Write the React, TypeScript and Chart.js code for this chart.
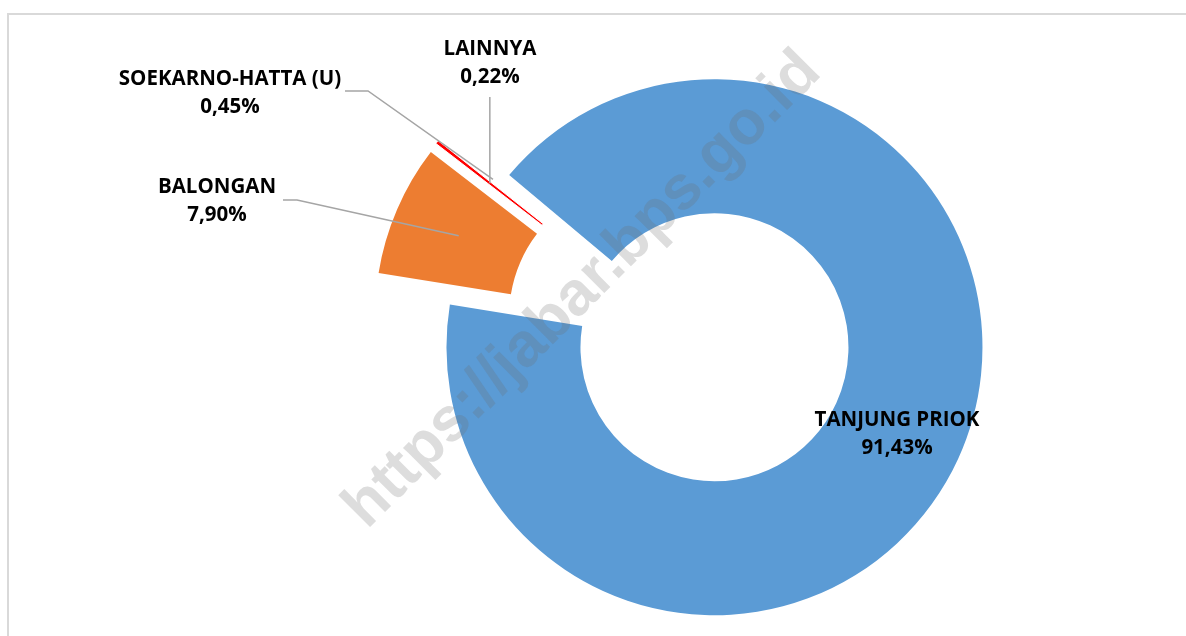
import React, { useEffect, useRef } from "react";
import { Chart, registerables } from "chart.js";

Chart.register(...registerables);

// ---- data ----
const categories = ["TANJUNG PRIOK", "BALONGAN", "LAINNYA", "SOEKARNO-HATTA (U)"];
const shares = [91.43, 7.9, 0.22, 0.45];
const shareLabels = ["91,43%", "7,90%", "0,22%", "0,45%"];
const watermarkText = "https://jabar.bps.go.id";

// ---- styles / layout ----
const sliceColors = ["#5B9BD5", "#ED7D31", "#FF0000", "rgba(0,0,0,0)"];
const sliceBorderWidths = [0, 0, 1, 0];
const ROTATION = -50;
const RADIUS = 268;
const EXPLODE = 39;
const LABEL_FONT = "bold 20.5px 'Open Sans'";
const LINE_GAP = 28;
const LEADER_COLOR = "#A5A5A5";
// label block centre (first line) and leader start points
const labelLayout: { x: number; y: number; leader: number[][] | null; vertical?: number }[] = [
  { x: 897, y: 420, leader: null },
  { x: 217, y: 187, leader: [[283, 200], [297, 200]] },
  { x: 490, y: 49, leader: null, vertical: 97 },
  { x: 230, y: 79, leader: [[345, 91], [368, 91]] },
];

const explodePlugin = {
  id: "explode",
  afterDatasetsUpdate(chart: any) {
    const meta = chart.getDatasetMeta(0);
    meta.data.forEach((el: any) => {
      const mid = (el.startAngle + el.endAngle) / 2;
      el.x += Math.cos(mid) * EXPLODE;
      el.y += Math.sin(mid) * EXPLODE;
    });
  },
};

const labelPlugin = {
  id: "sliceLabels",
  afterDatasetsDraw(chart: any) {
    const ctx: CanvasRenderingContext2D = chart.ctx;
    const meta = chart.getDatasetMeta(0);
    ctx.save();
    meta.data.forEach((el: any, i: number) => {
      const mid = (el.startAngle + el.endAngle) / 2;
      const r = (el.innerRadius + el.outerRadius) / 2;
      const cx = el.x + Math.cos(mid) * r;
      const cy = el.y + Math.sin(mid) * r;
      const lay = labelLayout[i];
      ctx.strokeStyle = LEADER_COLOR;
      ctx.lineWidth = 1.5;
      if (lay.leader) {
        ctx.beginPath();
        ctx.moveTo(lay.leader[0][0], lay.leader[0][1]);
        for (let k = 1; k < lay.leader.length; k++) ctx.lineTo(lay.leader[k][0], lay.leader[k][1]);
        ctx.lineTo(cx, cy);
        ctx.stroke();
      } else if (lay.vertical !== undefined) {
        ctx.beginPath();
        ctx.moveTo(cx, lay.vertical);
        ctx.lineTo(cx, cy);
        ctx.stroke();
      }
    });
    ctx.fillStyle = "#000";
    ctx.font = LABEL_FONT;
    ctx.textAlign = "center";
    ctx.textBaseline = "middle";
    categories.forEach((c, i) => {
      const lay = labelLayout[i];
      ctx.fillText(c, lay.x, lay.y);
      ctx.fillText(shareLabels[i], lay.x, lay.y + LINE_GAP);
    });
    ctx.restore();
  },
};

const watermarkPlugin = {
  id: "watermark",
  afterDraw(chart: any) {
    const ctx: CanvasRenderingContext2D = chart.ctx;
    ctx.save();
    ctx.translate(583, 290);
    ctx.rotate(-Math.PI / 4);
    ctx.font = "bold 100px 'Liberation Sans'";
    const w = ctx.measureText(watermarkText).width;
    const size = (100 * 645) / w;
    ctx.font = `bold ${size}px 'Liberation Sans'`;
    ctx.fillStyle = "rgba(110,110,110,0.23)";
    ctx.textAlign = "center";
    ctx.textBaseline = "middle";
    ctx.fillText(watermarkText, 0, 0);
    ctx.restore();
  },
};

export default function App() {
  const ref = useRef<HTMLCanvasElement>(null);
  useEffect(() => {
    const chart = new Chart(ref.current as HTMLCanvasElement, {
      type: "doughnut",
      data: {
        labels: categories,
        datasets: [
          {
            data: shares,
            backgroundColor: sliceColors,
            borderColor: "#ffffff",
            borderWidth: sliceBorderWidths,
          },
        ],
      },
      options: {
        responsive: false,
        animation: false,
        devicePixelRatio: 1,
        events: [],
        rotation: ROTATION,
        radius: RADIUS,
        cutout: "50%",
        layout: { padding: { left: 172, right: 0, top: 26, bottom: 0 } },
        plugins: { legend: { display: false }, tooltip: { enabled: false } },
      } as any,
      plugins: [explodePlugin, labelPlugin, watermarkPlugin],
    });
    return () => chart.destroy();
  }, []);
  return (
    <div style={{ position: "fixed", inset: 0, overflow: "hidden", background: "#fff" }}>
      <div
        style={{
          position: "absolute",
          left: 7,
          top: 13,
          width: 1300,
          height: 800,
          border: "2px solid #d9d9d9",
        }}
      />
      <canvas
        ref={ref}
        width={1186}
        height={636}
        style={{ position: "absolute", left: 0, top: 0 }}
      />
    </div>
  );
}
